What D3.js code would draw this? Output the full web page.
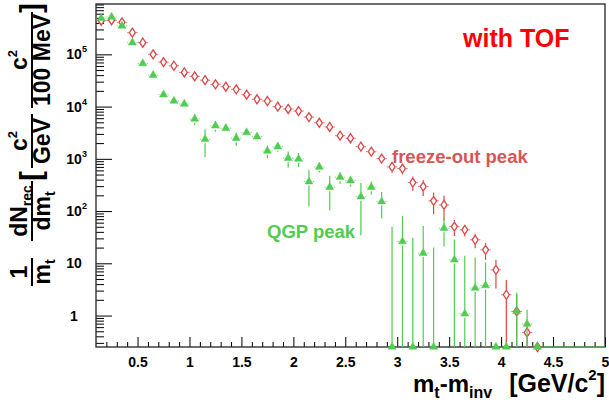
<!DOCTYPE html>
<html>
<head>
<meta charset="utf-8">
<script src="https://cdn.jsdelivr.net/npm/d3@7"></script>
<style>
    body { margin: 0; background: #fff; }
    text { font-family: "Liberation Sans", Arial, Helvetica, sans-serif; font-weight: bold; }
</style>
</head>
<body>
<div id="chartContainer"></div>
<script>
// bin centres of m_t - m_inv (GeV/c^2), bins are 0.1 wide
const binCenters = [0.15, 0.25, 0.35, 0.45, 0.55, 0.65, 0.75, 0.85, 0.95, 1.05,
    1.15, 1.25, 1.35, 1.45, 1.55, 1.65, 1.75, 1.85, 1.95, 2.05,
    2.15, 2.25, 2.35, 2.45, 2.55, 2.65, 2.75, 2.85, 2.95, 3.05,
    3.15, 3.25, 3.35, 3.45, 3.55, 3.65, 3.75, 3.85, 3.95, 4.05,
    4.15, 4.25, 4.35];
const binHalfWidth = 0.05;

// freeze-out peak (open diamonds)
const freezeOutValues = [4.4e5, 4.5e5, 4.1e5, 2.6e5, 1.67e5, 1.0e5, 7.1e4, 6.05e4, 4.5e4, 3.8e4,
    3.2e4, 2.67e4, 2.4e4, 2.14e4, 1.69e4, 1.38e4, 1.28e4, 9960, 9000, 8200,
    6300, 4900, 4070, 2780, 2480, 1710, 1370, 1010, 700, 650,
    351, 294, 157, 131, 50.5, 43.7, 28.2, 18.1, 7.5, 2.5,
    1.2, 0.475, 0];
const freezeOutErrors = [5000, 5000, 4500, 3500, 3000, 2500, 2000, 1800, 1600, 1400,
    1300, 1200, 1100, 1000, 900, 800, 750, 650, 600, 550,
    500, 450, 400, 330, 310, 260, 230, 190, 160, 150,
    110, 100, 70, 65, 17, 11, 8.7, 6.5, 4.2, 2.3,
    1.3, 0.3, 0];

// QGP peak (filled triangles)
const qgpValues = [4.9e5, 5.2e5, 3.5e5, 1.67e5, 6.7e4, 4.0e4, 1.69e4, 1.28e4, 1.12e4, 5800,
    2370, 4300, 3850, 2480, 3200, 2660, 1420, 1710, 1030, 995,
    367, 700, 287, 445, 383, 189, 287, 152, 0, 26.1,
    0, 15.7, 0, 47, 11.7, 1.08, 3.36, 3.76, 0, 0,
    1.2, 0.69, 0];
const qgpErrors = [1.5e4, 1.6e4, 1.2e4, 7000, 4000, 2800, 1500, 1200, 1100, 1400,
    1300, 1000, 600, 700, 500, 500, 380, 350, 350, 300,
    245, 150, 185, 110, 90, 155, 80, 80, 50, 54,
    31, 36, 20, 26, 17, 12.8, 9.5, 6.6, 0, 0,
    1.57, 0.6, 0];

// axis ticks
const xMajorTicks = [0.5, 1, 1.5, 2, 2.5, 3, 3.5, 4, 4.5, 5];
const xMinorTicks = [0.2, 0.3, 0.4, 0.6, 0.7, 0.8, 0.9, 1.1, 1.2, 1.3, 1.4, 1.6, 1.7, 1.8, 1.9,
    2.1, 2.2, 2.3, 2.4, 2.6, 2.7, 2.8, 2.9, 3.1, 3.2, 3.3, 3.4, 3.6, 3.7, 3.8, 3.9,
    4.1, 4.2, 4.3, 4.4, 4.6, 4.7, 4.8, 4.9];
const yMajorTicks = [1, 10, 1e2, 1e3, 1e4, 1e5];
const yTickExponents = ["", "", "2", "3", "4", "5"];
const yTickBases = ["1", "10", "10", "10", "10", "10"];

const redColor = "#dc4646";
const redText = "#d95555";
const greenColor = "#50cc50";

function createSpectrumChart(containerId) {
    const svg = d3.select(`#${containerId}`)
        .append("svg")
        .attr("width", 609)
        .attr("height", 410);

    const left = 96, right = 605, top = 4, bottom = 347;

    const xScale = d3.scaleLinear().domain([0.1, 5]).range([left, right]);
    const yScale = d3.scaleLog().domain([0.25, 9.2e5]).range([bottom, top]);
    const yMin = yScale.domain()[0];

    // x axis: major and minor ticks pointing up
    svg.append("g")
        .attr("transform", `translate(0, ${bottom})`)
        .call(d3.axisBottom(xScale).tickValues(xMinorTicks).tickSize(-5).tickSizeOuter(0).tickFormat(""))
        .call(g => g.select(".domain").remove());

    svg.append("g")
        .attr("transform", `translate(0, ${bottom})`)
        .call(d3.axisBottom(xScale).tickValues(xMajorTicks).tickSize(-10).tickSizeOuter(0).tickPadding(10)
            .tickFormat(d => String(d)))
        .call(g => g.select(".domain").remove())
        .call(g => g.selectAll("text").attr("font-size", 14).attr("fill", "#000"));

    // y axis: decades + minor ticks
    const yMinor = yScale.ticks().filter(v => yMajorTicks.indexOf(v) < 0 && Math.abs(Math.log10(v) % 1) > 1e-6);
    svg.append("g")
        .attr("transform", `translate(${left}, 0)`)
        .call(d3.axisLeft(yScale).tickValues(yMinor).tickSize(-8).tickSizeOuter(0).tickFormat(""))
        .call(g => g.select(".domain").remove());

    svg.append("g")
        .attr("transform", `translate(${left}, 0)`)
        .call(d3.axisLeft(yScale).tickValues(yMajorTicks).tickSize(-16).tickSizeOuter(0).tickFormat(""))
        .call(g => g.select(".domain").remove());

    // y tick labels, 10^n style
    yMajorTicks.forEach((v, i) => {
        svg.append("text")
            .attr("x", 74)
            .attr("y", yScale(v) + 5)
            .attr("font-size", 14)
            .attr("text-anchor", "middle")
            .text(yTickBases[i]);
        if (yTickExponents[i]) {
            svg.append("text")
                .attr("x", 82)
                .attr("y", yScale(v) - 2)
                .attr("font-size", 9)
                .text(yTickExponents[i]);
        }
    });

    // frame
    svg.append("rect")
        .attr("x", left).attr("y", top)
        .attr("width", right - left).attr("height", bottom - top)
        .attr("fill", "none")
        .attr("stroke", "#222")
        .attr("stroke-width", 1.3);

    // zero bins drawn along the bottom edge
    svg.append("line")
        .attr("x1", xScale(4.3)).attr("x2", xScale(5))
        .attr("y1", bottom).attr("y2", bottom)
        .attr("stroke", greenColor).attr("stroke-width", 1.2);

    // draw one data series with error bars broken around the marker
    function drawSeries(values, errors, color, markerPath, halfW, halfH, filled) {
        const g = svg.append("g");
        values.forEach((v, i) => {
            if (v === null) return;
            const c = binCenters[i];
            const x = xScale(c);
            const y = v > 0 ? yScale(v) : bottom;
            const hi = v + errors[i];
            const lo = v - errors[i];
            const yHi = hi > yMin ? Math.max(yScale(hi), top) : bottom;
            const yLo = lo > yMin ? yScale(lo) : bottom;

            if (yHi < y - halfH) {
                g.append("line").attr("x1", x).attr("x2", x).attr("y1", yHi).attr("y2", y - halfH)
                    .attr("stroke", color).attr("stroke-width", 1.2);
            }
            if (yLo > y + halfH) {
                g.append("line").attr("x1", x).attr("x2", x).attr("y1", y + halfH).attr("y2", yLo)
                    .attr("stroke", color).attr("stroke-width", 1.2);
            }
            // horizontal bin width
            g.append("line").attr("x1", xScale(c - binHalfWidth)).attr("x2", x - halfW)
                .attr("y1", y).attr("y2", y)
                .attr("stroke", color).attr("stroke-width", 1).attr("stroke-dasharray", "2,1").attr("opacity", 0.75);
            g.append("line").attr("x1", x + halfW).attr("x2", xScale(c + binHalfWidth))
                .attr("y1", y).attr("y2", y)
                .attr("stroke", color).attr("stroke-width", 1).attr("stroke-dasharray", "2,1").attr("opacity", 0.75);

            g.append("path")
                .attr("d", markerPath)
                .attr("transform", `translate(${x}, ${y})`)
                .attr("fill", filled ? color : "#fff")
                .attr("stroke", color)
                .attr("stroke-width", filled ? 0.5 : 1.3);
        });
    }

    const diamond = "M0,-4.5L3,0L0,4.5L-3,0Z";
    const triangle = d3.symbol(d3.symbolTriangle, 28)();

    drawSeries(freezeOutValues, freezeOutErrors, redColor, diamond, 3.5, 5, false);
    drawSeries(qgpValues, qgpErrors, greenColor, triangle, 4, 4, true);

    // labels inside the frame
    svg.append("text").attr("x", 463).attr("y", 47)
        .attr("font-size", 25).attr("fill", "#ff0000").text("with TOF");
    svg.append("text").attr("x", 392).attr("y", 163)
        .attr("font-size", 18.5).attr("fill", redText).text("freeze-out peak");
    svg.append("text").attr("x", 267).attr("y", 238)
        .attr("font-size", 18.5).attr("fill", greenColor).text("QGP peak");

    // x axis title
    const xt = svg.append("text").attr("x", 413).attr("y", 392).attr("font-size", 24);
    xt.append("tspan").text("m");
    xt.append("tspan").attr("font-size", 16).attr("dy", 6).text("t");
    xt.append("tspan").attr("dy", -6).text("-m");
    xt.append("tspan").attr("font-size", 16).attr("dy", 6).text("inv");
    const xu = svg.append("text").attr("x", 605).attr("y", 392).attr("font-size", 25).attr("text-anchor", "end");
    xu.append("tspan").text("[GeV/c");
    xu.append("tspan").attr("font-size", 15).attr("dy", -12).text("2");
    xu.append("tspan").attr("dy", 12).text("]");

    // y axis title, rotated fractions
    const yt = svg.append("g").attr("transform", "rotate(-90)");
    function fraction(center, half, num, den) {
        const n = yt.append("text").attr("x", center).attr("y", 27).attr("font-size", 23).attr("text-anchor", "middle");
        num.forEach(p => n.append("tspan").attr("font-size", p.size || 23).attr("dy", p.dy || 0).text(p.t));
        yt.append("line").attr("x1", center - half).attr("x2", center + half)
            .attr("y1", 32).attr("y2", 32).attr("stroke", "#000").attr("stroke-width", 2);
        const d = yt.append("text").attr("x", center).attr("y", 50).attr("font-size", 23).attr("text-anchor", "middle");
        den.forEach(p => d.append("tspan").attr("font-size", p.size || 23).attr("dy", p.dy || 0).text(p.t));
    }
    fraction(-272, 14, [{ t: "1" }], [{ t: "m" }, { t: "t", size: 14, dy: 5 }]);
    fraction(-211, 30, [{ t: "dN" }, { t: "rec", size: 14, dy: 5 }], [{ t: "dm" }, { t: "t", size: 14, dy: 5 }]);
    fraction(-141, 27, [{ t: "c" }, { t: "2", size: 13, dy: -10 }], [{ t: "GeV" }]);
    fraction(-60, 48, [{ t: "c" }, { t: "2", size: 13, dy: -10 }], [{ t: "100 MeV" }]);
    yt.append("text").attr("x", -176).attr("y", 41).attr("font-size", 29).attr("text-anchor", "middle").text("[");
    yt.append("text").attr("x", -8).attr("y", 41).attr("font-size", 29).attr("text-anchor", "middle").text("]");
}

createSpectrumChart("chartContainer");
</script>
</body>
</html>
